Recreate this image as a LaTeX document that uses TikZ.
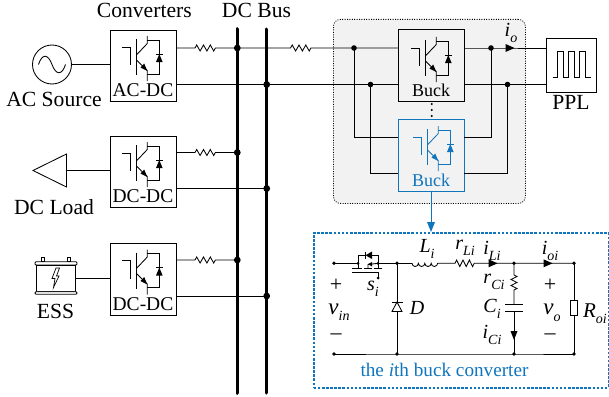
\documentclass[tikz,border=0pt]{standalone}
\usepackage{fontspec}
\setmainfont{Liberation Serif}
\usetikzlibrary{calc}
\definecolor{bl}{HTML}{0F75BD}
\newcommand\lab[2]{\textit{#1}\raisebox{-0.28em}{\fontsize{14}{14}\selectfont\itshape #2}}
% transistor symbol: #1 = named origin, #2 = colour
\newcommand\igbtsym[2]{%
\begin{scope}[shift={(#1)},draw=#2,line width=.85pt]
\draw (-14,8.3) -- (-6,8.3) -- (-6,26);
\draw (0,0) -- (0,36);
\draw (0.4,16) -- (11.3,4.5) -- (11.3,-3);
\draw (11.3,1) -- (23.3,1) -- (23.3,35) -- (11.3,35);
\draw (0.4,21) -- (11.3,31.5) -- (11.3,42);
\fill[#2] (11.3,32) -- (4.5,28.5) -- (8.2,24.5) -- cycle;
\fill[#2] (23.3,15) -- (26.6,23) -- (20,23) -- cycle;
\draw (19.8,15) -- (26.8,15);
\end{scope}}
\newcommand\hzig[2]{-- ++(1.5,0) -- ++(1.7,-3) -- ++(3.4,6) -- ++(3.4,-6) -- ++(3.4,6) -- ++(3.4,-6) -- ++(3.4,6) -- ++(1.7,-3) -- ++(1.5,0)}
\newcommand\rtri[1]{\fill (#1) ++(4.5,0) -- ++(-9,-4) -- ++(0,8) -- cycle;}
\tikzset{
 x=1pt,y=-1pt,
 wire/.style={line width=.85pt,line cap=butt},
 box/.style={draw,line width=.85pt,anchor=north west,minimum width=66pt,minimum height=71.5pt,inner sep=0pt,outer sep=0pt},
 bus/.style={line width=3.6pt,line cap=round},
 dot/.style={circle,fill,inner sep=0pt,minimum size=5.6pt},
 bdot/.style={circle,fill,inner sep=0pt,minimum size=6.8pt},
 tdot/.style={circle,fill,inner sep=0pt,minimum size=3.8pt},
 big/.style={font=\fontsize{21.6}{21}\selectfont,inner sep=0pt},
 mid/.style={font=\fontsize{19.5}{19}\selectfont,inner sep=0pt},
 cir/.style={font=\fontsize{20}{20}\selectfont,inner sep=0pt},
}
\begin{document}
\begin{tikzpicture}
\useasboundingbox (0,0) rectangle (609,396);
% shaded group
\node[draw,fill=black!5,rounded corners=7pt,line width=.8pt,dash pattern=on 1pt off 1.4pt,anchor=north west,minimum width=192pt,minimum height=184pt,inner sep=0pt] (grp) at (333,19) {};
% boxes
\node[box] (c1) at (110.5,30) {};
\node[box] (c2) at (110.5,136) {};
\node[box] (c3) at (110.5,243.5) {};
\node[box,minimum height=72pt] (b1) at (398,29) {};
\node[box,draw=bl,fill=black!5,minimum height=72pt] (b2) at (398,119) {};
\node[box,minimum width=50pt,minimum height=54pt] (ppl) at (546,38) {};
% bus
\coordinate (bA) at (237.3,29); \coordinate (bAe) at (237.3,393);
\coordinate (bB) at (266.7,29); \coordinate (bBe) at (266.7,393);
% wire coordinates
\coordinate (n1) at (237.3,48); \coordinate (n2) at (266.7,84.5);
\coordinate (n3) at (237.3,152.5); \coordinate (n4) at (266.7,188.5);
\coordinate (n5) at (237.3,260); \coordinate (n6) at (266.7,296);
\coordinate (n7) at (354,48); \coordinate (n8) at (370.5,84.5);
\coordinate (n9) at (491,48); \coordinate (n10) at (507.5,84.5);
% wires
\draw[wire] (c1.east |- n1) -- ++(17,0) \hzig{}{} -- (n1) -- (289,48) \hzig{}{} -- (b1.west |- n1);
\draw[wire] (c1.east |- n2) -- (n2) -- (b1.west |- n2);
\draw[wire] (c2.east |- n3) -- ++(17,0) \hzig{}{} -- (n3);
\draw[wire] (c2.east |- n4) -- (n4);
\draw[wire] (c3.east |- n5) -- ++(17,0) \hzig{}{} -- (n5);
\draw[wire] (c3.east |- n6) -- (n6);
\draw[wire] (n7) |- (b2.west |- 0,137);
\draw[wire] (n8) |- (b2.west |- 0,173.3);
\draw[wire] (b2.east |- 0,137) -| (n9);
\draw[wire] (b2.east |- 0,173.3) -| (n10);
\draw[wire] (b1.east |- n9) -- (n9) -- (ppl.west |- n9);
\draw[wire] (b1.east |- n10) -- (n10) -- (ppl.west |- n10);
\draw[bus] (bA) -- (bAe);
\draw[bus,line width=3pt] (bB) -- (bBe);
\foreach \p in {n1,n3,n5} \node[bdot] at (\p) {};
\foreach \p in {n2,n4,n6} \node[bdot] at (\p) {};
\foreach \p in {n7,n8,n9,n10} \node[dot] at (\p) {};
\rtri{510,48}
% symbols
\coordinate (s1) at (136,39); \coordinate (s2) at (136,145); \coordinate (s3) at (136,252.5);
\coordinate (s4) at (425,40); \coordinate (s5) at (427,129);
\igbtsym{s1}{black}\igbtsym{s2}{black}\igbtsym{s3}{black}\igbtsym{s4}{black}\igbtsym{s5}{bl}
\node[mid] at (143,90.5) {AC-DC};
\node[mid] at (143,196.5) {DC-DC};
\node[mid] at (143,304.5) {DC-DC};
\node[mid,font=\fontsize{18}{18}\selectfont] at (431,90.5) {Buck};
\node[mid,font=\fontsize{18}{18}\selectfont,text=bl] at (431,180.5) {Buck};
\foreach \y in {104,110,116} \fill (431.7,\y) circle (1.2);
% titles
\node[big] at (144.3,10.5) {Converters};
\node[big] at (256.5,10.5) {DC Bus};
\node[big] at (54,99.5) {AC Source};
\node[big] at (54,207.5) {DC Load};
\node[big] at (55.5,311) {ESS};
\node[big] at (571,102.5) {PPL};
\node[cir] at (511,33) {\lab{i}{o}};
% AC source
\node[draw,circle,line width=.85pt,minimum size=39pt,inner sep=0pt] (ac) at (52,64.5) {};
\draw[wire] (ac.east) -- (c1.west |- ac.east);
\draw[line width=.85pt] (38.5,64.5) .. controls (42,53.5) and (48,53.5) .. (52,64.5) .. controls (56,75.5) and (62,75.5) .. (65.5,64.5);
% DC load
\coordinate (dl) at (66.5,170.5);
\draw[line width=.85pt] (33,170.5) -- (66.5,154) -- (66.5,187) -- cycle;
\draw[wire] (dl) -- (c2.west |- dl);
% ESS
\coordinate (es) at (76,278);
\begin{scope}[line width=.85pt]
\draw (36.7,265) rectangle (75.7,291.7);
\draw[rounded corners=1pt] (35,261.7) rectangle (77,265);
\draw[fill=white,rounded corners=1pt] (35,291.7) rectangle (77,294.3);
\draw (41.7,261.7) rectangle (44.5,257.3);
\draw (67.7,261.7) rectangle (70.5,257.3);
\draw[line width=.7pt] (56,268) -- (59.5,268) -- (56.5,276) -- (59,276) -- (53.5,287.5) -- (55,278.5) -- (52,278.5) -- cycle;
\end{scope}
\draw[wire] (es) -- (c3.west |- es);
% PPL pulses
\draw[line width=.85pt] (552.7,77.4) -- (557.4,77.4) -- (557.4,51) -- (563.3,51) -- (563.3,77.4) -- (568,77.4) -- (568,51) -- (574.3,51) -- (574.3,77.4) -- (579.3,77.4) -- (579.3,51) -- (585.7,51) -- (585.7,77.4) -- (591,77.4);
% detail box
\coordinate (arrS) at (431,191);
\node[draw=bl,line width=1.5pt,dash pattern=on 2.6pt off 1.5pt,anchor=north west,minimum width=294.5pt,minimum height=155pt,inner sep=0pt] (det) at (313,232) {};
\draw[bl,line width=1pt] (arrS) -- (431,224);
\fill[bl] (431,232) -- (427,222) -- (435,222) -- cycle;
% circuit
\coordinate (tl) at (334,263.3); \coordinate (bl1) at (334,354);
\coordinate (q1) at (358,263.3); \coordinate (q2) at (378,263.3);
\coordinate (nD) at (397,263.3); \coordinate (bD) at (397,354);
\coordinate (nC) at (514,263.3); \coordinate (bC) at (514,354);
\coordinate (nR) at (574,263.3); \coordinate (bR) at (574,354);
\begin{scope}[line width=.85pt]
\draw (tl) -- (q1); \draw (q2) -- (nD) -- (412,263.3);
\draw (412,263.3) arc[start angle=180,end angle=0,radius=3.2] arc[start angle=180,end angle=0,radius=3.2] arc[start angle=180,end angle=0,radius=3.2] arc[start angle=180,end angle=0,radius=3.2] -- (454,263.3);
\draw (454,263.3) -- ++(1,0) -- ++(1.6,-3.3) -- ++(3.2,6.6) -- ++(3.2,-6.6) -- ++(3.2,6.6) -- ++(3.2,-6.6) -- ++(3.2,6.6) -- ++(1.6,-3.3) -- (nC) -- (nR);
\draw (bl1) -- (bD) -- (bC) -- (bR);
% mosfet
\draw (q1) -- ++(0,-8) -- ++(7,0);
\draw (q2) -- ++(0,-8) -- ++(-7,0);
\fill (372,251.5) -- (372,259) -- (365.5,255.3) -- cycle;
\draw (365,251.5) -- (365,259);
\draw (q1) -- ++(0,5.5); \draw (q2) -- ++(0,5.5);
\draw (352,268.8) -- (362,268.8) (364,268.8) -- (372,268.8) (374,268.8) -- (382,268.8);
\draw (368,268.8) -- (368,264.5) -- (q2);
\draw (352,272.8) -- (378,272.8) -- (378,278);
\fill (368,264) -- (372,262) -- (372,266.5) -- cycle;
% diode
\draw (nD) -- (bD);
\draw[fill=white] (397,302) -- (402,311.5) -- (392,311.5) -- cycle;
\draw (391.5,302) -- (402.5,302);
% branch C
\draw (nC) -- (514,274) -- ++(0,1) -- ++(3,1.5) -- ++(-6,3) -- ++(6,3) -- ++(-6,3) -- ++(6,3) -- ++(-3,1.5) -- (514,304);
\draw[line width=1pt] (505,304.3) -- (523,304.3);
\draw[line width=1pt] (505,311) -- (523,311);
\draw (514,311) -- (bC);
\fill (514,340) -- (510.5,331) -- (517.5,331) -- cycle;
% R branch
\draw (nR) -- (574,300);
\draw (574,315) -- (bR);
\draw (570.8,300) rectangle (577.2,315.5);
\end{scope}
\rtri{493,263.3}
\rtri{548,263.3}
\foreach \p in {tl,bl1,nD,bD,nC,bC,nR,bR} \node[tdot] at (\p) {};
\foreach \p in {q1,q2} \node[circle,fill,inner sep=0pt,minimum size=3pt] at (\p) {};
\node[circle,fill,inner sep=0pt,minimum size=3pt] at (378,278) {};
% circuit labels
\node[cir] at (427,249) {\lab{L}{i}};
\node[cir] at (465,248) {\lab{r}{Li}};
\node[cir] at (492,251) {\lab{i}{Li}};
\node[cir] at (550,251) {\lab{i}{oi}};
\node[cir] at (494,282) {\lab{r}{Ci}};
\node[cir] at (492,309) {\lab{C}{i}};
\node[cir] at (492,335) {\lab{i}{Ci}};
\node[cir] at (373,289) {\lab{s}{i}};
\node[cir] at (417,308) {\textit{D}};
\node[cir,font=\fontsize{23}{23}\selectfont] at (339,312) {\lab{v}{in}};
\node[cir,font=\fontsize{23}{23}\selectfont] at (552,313) {\lab{v}{o}};
\node[cir,font=\fontsize{21}{21}\selectfont] at (595,314) {\lab{R}{oi}};
\node[cir,font=\fontsize{22}{22}\selectfont] at (336,285) {+};
\node[cir,font=\fontsize{22}{22}\selectfont] at (550,285) {+};
\node[cir,font=\fontsize{22}{22}\selectfont] at (336,337) {--};
\node[cir,font=\fontsize{22}{22}\selectfont] at (550,337) {--};
\node[cir,text=bl,font=\fontsize{19.2}{19}\selectfont] at (444.5,370) {the \textit{i}th buck converter};
\end{tikzpicture}
\end{document}
